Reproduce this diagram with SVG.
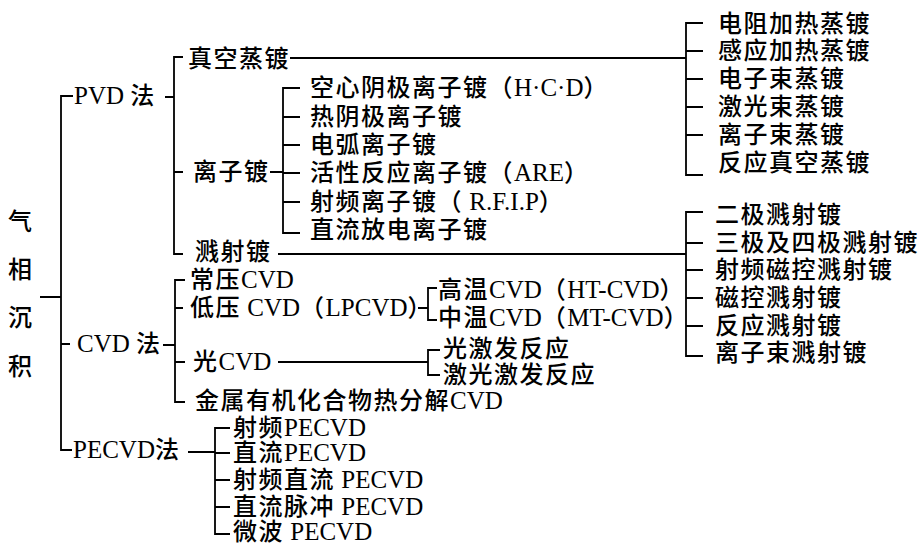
<svg xmlns="http://www.w3.org/2000/svg" width="924" height="544" viewBox="0 0 924 544">
<style>
text{font-family:"Liberation Serif","Noto Sans CJK SC",serif;font-size:24px;font-weight:500;fill:#000;letter-spacing:1.5px}
.l{font-size:25px;letter-spacing:0}
.v{text-anchor:middle;letter-spacing:0}
#connectors path{fill:none;stroke:#000;stroke-width:1.8}
</style>
<rect width="924" height="544" fill="#fff"/>
<g id="connectors">
<path d="M40,297H61M73,96H61V450H72M61,344H70"/>
<path d="M165,97H174M183,57H174V254H183M174,172H183"/>
<path d="M290,58H686M270,172H283M300,88H283V233H300M283,117H300M283,145H300M283,173H300M283,202H300"/>
<path d="M278,254H686"/>
<path d="M703,23H686V175H703M686,51H703M686,79H703M686,107H703M686,135H703"/>
<path d="M703,212H686V356H703M686,243H703M686,270H703M686,298H703M686,326H703"/>
<path d="M163,345H175M185,280H175V402H185M175,308H183M175,362H185"/>
<path d="M418,308H428M437,288H428V320H437"/>
<path d="M278,362H428M440,350H428V375H440"/>
<path d="M188,452H215M230,428H215V534H230M215,453H230M215,480H230M215,507H230"/>
</g>
<g id="root"><text class="v" x="20" y="230">气</text><text class="v" x="20" y="278">相</text><text class="v" x="20" y="326">沉</text><text class="v" x="20" y="375">积</text></g>
<g id="pvd"><text x="74" y="104"><tspan class="l">PVD </tspan>法</text></g>
<g id="cvd"><text x="77" y="352"><tspan class="l">CVD </tspan>法</text></g>
<g id="pecvd"><text x="73" y="458"><tspan class="l">PECVD</tspan>法</text></g>
<g id="vacuum"><text x="188" y="67">真空蒸镀</text></g>
<g id="ionplating"><text x="193" y="180">离子镀</text></g>
<g id="sputter"><text x="195" y="260">溅射镀</text></g>
<g id="ion-items">
<text x="310" y="96">空心阴极离子镀（<tspan class="l">H·C·D</tspan>）</text>
<text x="310" y="125">热阴极离子镀</text>
<text x="310" y="153">电弧离子镀</text>
<text x="310" y="181">活性反应离子镀（<tspan class="l">ARE</tspan>）</text>
<text x="310" y="210">射频离子镀（<tspan class="l"> R.F.I.P</tspan>）</text>
<text x="310" y="238">直流放电离子镀</text>
</g>
<g id="vacuum-items">
<text x="718" y="32">电阻加热蒸镀</text>
<text x="718" y="59">感应加热蒸镀</text>
<text x="718" y="87">电子束蒸镀</text>
<text x="718" y="115">激光束蒸镀</text>
<text x="718" y="143">离子束蒸镀</text>
<text x="718" y="171">反应真空蒸镀</text>
</g>
<g id="sputter-items">
<text x="715" y="223">二极溅射镀</text>
<text x="715" y="251">三极及四极溅射镀</text>
<text x="715" y="278">射频磁控溅射镀</text>
<text x="715" y="306">磁控溅射镀</text>
<text x="715" y="334">反应溅射镀</text>
<text x="715" y="361">离子束溅射镀</text>
</g>
<g id="cvd-items">
<text x="190" y="288">常压<tspan class="l">CVD</tspan></text>
<text x="190" y="316">低压<tspan class="l"> CVD</tspan>（<tspan class="l">LPCVD</tspan>）</text>
<text x="193" y="370">光<tspan class="l">CVD</tspan></text>
<text x="195" y="409">金属有机化合物热分解<tspan class="l">CVD</tspan></text>
</g>
<g id="lpcvd-items">
<text x="438" y="298">高温<tspan class="l">CVD</tspan>（<tspan class="l">HT-CVD</tspan>）</text>
<text x="438" y="326">中温<tspan class="l">CVD</tspan>（<tspan class="l">MT-CVD</tspan>）</text>
</g>
<g id="photo-items">
<text x="443" y="357">光激发反应</text>
<text x="443" y="383">激光激发反应</text>
</g>
<g id="pecvd-items">
<text x="233" y="436">射频<tspan class="l">PECVD</tspan></text>
<text x="233" y="461">直流<tspan class="l">PECVD</tspan></text>
<text x="233" y="488">射频直流<tspan class="l"> PECVD</tspan></text>
<text x="233" y="515">直流脉冲<tspan class="l"> PECVD</tspan></text>
<text x="233" y="540">微波<tspan class="l"> PECVD</tspan></text>
</g>
</svg>
